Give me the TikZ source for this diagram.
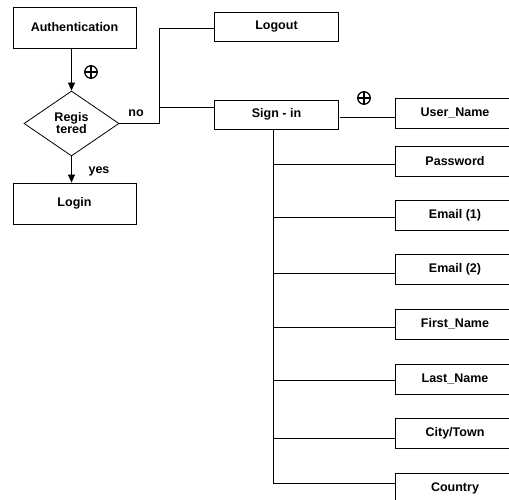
\documentclass[tikz,border=0pt]{standalone}
\usepackage{fontspec}
\setmainfont{Liberation Sans}
\usetikzlibrary{shapes.geometric,arrows.meta}

\tikzset{
  box/.style={draw, rectangle, line width=0.8pt, minimum width=123pt, minimum height=41pt,
    inner sep=0pt, font=\fontsize{12.5}{12}\bfseries},
  menubox/.style={box, minimum width=124pt, minimum height=29pt},
  fieldbox/.style={box, minimum width=120pt, minimum height=30pt},
  decision/.style={draw, diamond, line width=0.8pt, minimum width=95pt, minimum height=65pt,
    inner sep=0pt, align=center, font=\fontsize{12.5}{12}\bfseries},
  link/.style={line width=0.8pt},
  flow/.style={link, -{Triangle[length=8pt,width=7pt]}},
  lbl/.style={font=\fontsize{12.5}{12}\bfseries},
  choice/.style={circle, draw, line width=1.3pt, minimum size=12.5pt, inner sep=0pt,
    path picture={\draw[line width=1.3pt]
      (path picture bounding box.north) -- (path picture bounding box.south)
      (path picture bounding box.west) -- (path picture bounding box.east);}}
}

\begin{document}
\begin{tikzpicture}[x=1pt, y=-1pt]
  \useasboundingbox (0,0) rectangle (509,500);
  \clip (0,0) rectangle (509,500);

  % left column
  \node[box] (auth) at (74.5,27.5) {Authentication};
  \node[decision] (reg) at (71.5,123.5) {Regis\\tered};
  \node[box] (login) at (74.5,203.5) {Login};

  \draw[flow] (reg.north |- auth.south) -- (reg.north);
  \draw[flow] (reg.south) -- (reg.south |- login.north);
  \node[choice] (plus1) at (91,72) {};
  \node[lbl] (yes) at (99,171) {yes};
  \node[lbl] (no) at (136,113) {no};

  % middle column
  \node[menubox] (logout) at (276.5,26.5) {Logout};
  \node[menubox] (signin) at (276.5,114.5) {Sign - in};

  \coordinate (nojoin) at (159,123.5);
  \coordinate (logoutin) at ([yshift=-1.5pt]logout.west);
  \coordinate (signinin) at ([yshift=7.5pt]signin.west);
  \draw[link] (reg.east) -- (nojoin) |- (logoutin);
  \draw[link] (nojoin |- signinin) -- (signinin);

  % fields of sign-in
  \node[fieldbox] (user) at (455,113) {User\_Name};
  \coordinate (userin) at ([yshift=-4.5pt]user.west);
  \draw[link] ([xshift=1pt]signin.east |- userin) -- (userin);
  \node[choice] (plus2) at (364,98) {};

  \coordinate (trunk) at ([xshift=-3.5pt]signin.south);
  \draw[link] (trunk) -- (trunk |- 0,483);
  \foreach \nm/\txt/\by/\ly in {pass/Password/161/164, mail1/Email (1)/215.5/217,
      mail2/Email (2)/269.5/273, first/First\_Name/324/327, last/Last\_Name/379/380,
      city/{City/Town}/433.5/438, country/Country/488/483}
  {
    \node[fieldbox] (\nm) at (455,\by) {\txt};
    \draw[link] (trunk |- 0,\ly) -- (\nm.west |- 0,\ly);
  }
\end{tikzpicture}
\end{document}
